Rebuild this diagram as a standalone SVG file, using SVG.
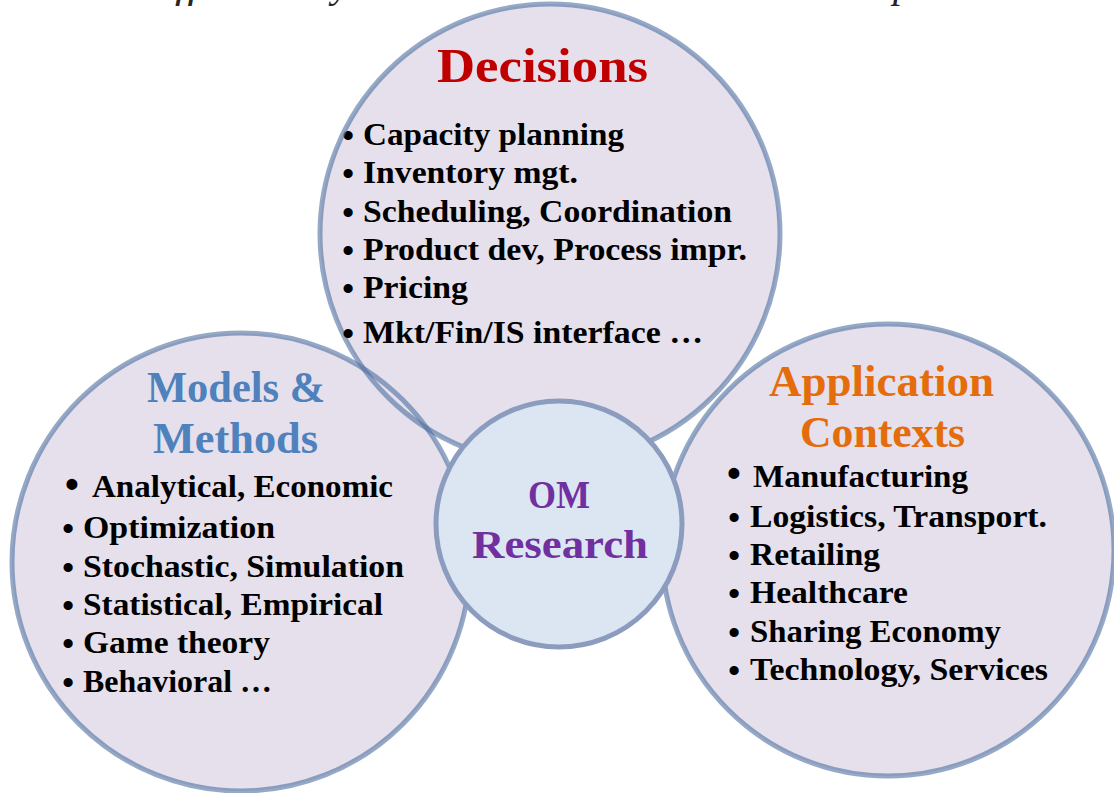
<svg xmlns="http://www.w3.org/2000/svg" width="1114" height="793" viewBox="0 0 1114 793">
  <style>
    .big { fill: #E5E0EC; }
    .ring { fill: none; stroke: #4F6FA0; stroke-opacity: 0.6; stroke-width: 5; }
    .om { fill: #DCE6F2; stroke: #8B9CBE; stroke-width: 5; }
    text { font-family: "Liberation Serif", "DejaVu Serif", serif; font-weight: bold; }
    .item { font-size: 31px; fill: #000000; }
    .b { font-family: "Liberation Sans", Arial, sans-serif; font-size: 32px; fill: #000000; text-anchor: middle; }
    .bb { font-family: "Liberation Sans", Arial, sans-serif; font-size: 38px; fill: #000000; text-anchor: middle; }
    .title { font-size: 44px; }
    .frag { font-family: "Liberation Serif", serif; font-style: italic; font-weight: normal; font-size: 40px; fill: #262626; }
  </style>
  <rect width="1114" height="793" fill="#FFFFFF"/>

  <g id="page-fragments">
    <text class="frag" x="175" y="-3" textLength="25" lengthAdjust="spacingAndGlyphs">ff</text>
    <text class="frag" x="332" y="-3">y</text>
    <text class="frag" x="893" y="-3">p</text>
  </g>

  <g id="node-decisions">
    <circle class="big" cx="550" cy="234" r="230"/>
    <text x="437" y="82" font-size="48" fill="#C00000" textLength="211" lengthAdjust="spacingAndGlyphs">Decisions</text>
    <text class="b" x="348" y="146">•</text>
    <text class="item" x="363" y="145" textLength="261" lengthAdjust="spacingAndGlyphs">Capacity planning</text>
    <text class="b" x="348" y="184">•</text>
    <text class="item" x="363" y="183" textLength="215" lengthAdjust="spacingAndGlyphs">Inventory mgt.</text>
    <text class="b" x="348" y="223">•</text>
    <text class="item" x="363" y="222" textLength="369" lengthAdjust="spacingAndGlyphs">Scheduling, Coordination</text>
    <text class="b" x="348" y="261">•</text>
    <text class="item" x="363" y="260" textLength="384" lengthAdjust="spacingAndGlyphs">Product dev, Process impr.</text>
    <text class="b" x="348" y="299">•</text>
    <text class="item" x="363" y="298" textLength="105" lengthAdjust="spacingAndGlyphs">Pricing</text>
  </g>

  <g id="node-models">
    <circle class="big" cx="241" cy="562" r="229"/>
    <text class="title" x="147" y="402" fill="#4F81BD" textLength="178" lengthAdjust="spacingAndGlyphs">Models &amp;</text>
    <text class="title" x="153" y="453" fill="#4F81BD" textLength="165" lengthAdjust="spacingAndGlyphs">Methods</text>
    <text class="bb" x="72" y="497">•</text>
    <text class="item" x="92" y="497" textLength="301" lengthAdjust="spacingAndGlyphs">Analytical, Economic</text>
    <text class="b" x="68" y="539">•</text>
    <text class="item" x="83" y="538" textLength="192" lengthAdjust="spacingAndGlyphs">Optimization</text>
    <text class="b" x="68" y="578">•</text>
    <text class="item" x="83" y="577" textLength="321" lengthAdjust="spacingAndGlyphs">Stochastic, Simulation</text>
    <text class="b" x="68" y="616">•</text>
    <text class="item" x="83" y="615" textLength="300" lengthAdjust="spacingAndGlyphs">Statistical, Empirical</text>
    <text class="b" x="68" y="654">•</text>
    <text class="item" x="83" y="653" textLength="187" lengthAdjust="spacingAndGlyphs">Game theory</text>
    <text class="b" x="68" y="693">•</text>
    <text class="item" x="83" y="692" textLength="189" lengthAdjust="spacingAndGlyphs">Behavioral …</text>
  </g>

  <g id="node-contexts">
    <circle class="big" cx="888" cy="550" r="226"/>
    <text class="title" x="769" y="396" fill="#E46C0A" textLength="225" lengthAdjust="spacingAndGlyphs">Application</text>
    <text class="title" x="800" y="447" fill="#E46C0A" textLength="165" lengthAdjust="spacingAndGlyphs">Contexts</text>
    <text class="bb" x="734" y="486">•</text>
    <text class="item" x="753" y="487" textLength="215" lengthAdjust="spacingAndGlyphs">Manufacturing</text>
    <text class="b" x="734" y="528">•</text>
    <text class="item" x="750" y="527" textLength="297" lengthAdjust="spacingAndGlyphs">Logistics, Transport.</text>
    <text class="b" x="734" y="566">•</text>
    <text class="item" x="750" y="565" textLength="130" lengthAdjust="spacingAndGlyphs">Retailing</text>
    <text class="b" x="734" y="604">•</text>
    <text class="item" x="750" y="603" textLength="158" lengthAdjust="spacingAndGlyphs">Healthcare</text>
    <text class="b" x="734" y="643">•</text>
    <text class="item" x="750" y="642" textLength="251" lengthAdjust="spacingAndGlyphs">Sharing Economy</text>
    <text class="b" x="734" y="681">•</text>
    <text class="item" x="750" y="680" textLength="298" lengthAdjust="spacingAndGlyphs">Technology, Services</text>
  </g>

  <g id="outlines">
    <circle class="ring" cx="550" cy="234" r="230"/>
    <circle class="ring" cx="241" cy="562" r="229"/>
    <circle class="ring" cx="888" cy="550" r="226"/>
  </g>

  <g id="node-decisions-last-item">
    <text class="b" x="348" y="344">•</text>
    <text class="item" x="363" y="343" textLength="340" lengthAdjust="spacingAndGlyphs">Mkt/Fin/IS interface …</text>
  </g>

  <g id="node-om-research">
    <circle class="om" cx="559" cy="524" r="123"/>
    <text x="528" y="508" font-size="40" fill="#7030A0" textLength="62" lengthAdjust="spacingAndGlyphs">OM</text>
    <text x="472" y="558" font-size="40" fill="#7030A0" textLength="176" lengthAdjust="spacingAndGlyphs">Research</text>
  </g>
</svg>
